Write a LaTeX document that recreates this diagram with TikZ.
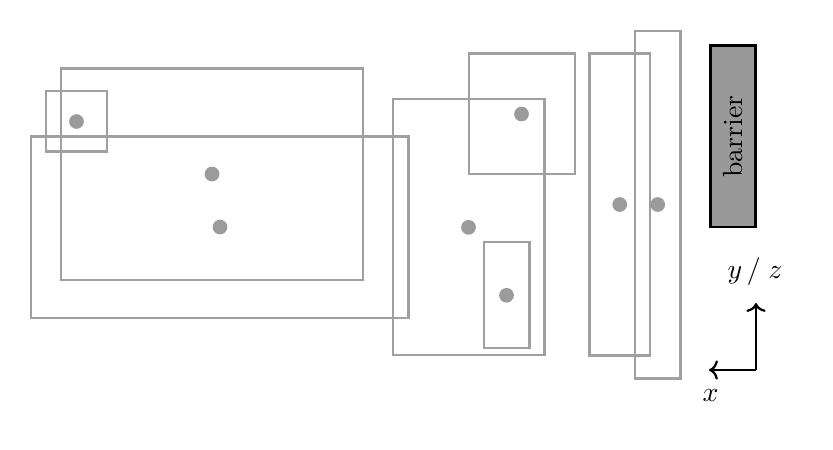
\documentclass[tikz,border=0pt]{standalone}
\usetikzlibrary{arrows.meta}
\definecolor{boxgray}{RGB}{160,160,160}
\definecolor{dotgray}{RGB}{155,155,155}
\definecolor{barfill}{RGB}{153,153,153}
\tikzset{
  cellbox/.style={draw=boxgray, line width=0.8pt},
  pdot/.style={circle, fill=dotgray, inner sep=0pt, minimum size=5.3pt},
  axisline/.style={draw=black, line width=0.8pt, -{To[length=3.2pt,width=7pt]}},
}
\begin{document}
\begin{tikzpicture}[x=0.3602pt, y=-0.3602pt]
\useasboundingbox (0,0) rectangle (833,449);
% boxes
\draw[cellbox] (61,68.5) rectangle (363,280);
\draw[cellbox] (46,91) rectangle (107,151.5);
\draw[cellbox] (31,136.5) rectangle (408.5,318);
\draw[cellbox] (393,99) rectangle (544.5,355);
\draw[cellbox] (469,53.5) rectangle (575,174);
\draw[cellbox] (484,242) rectangle (529.5,348);
\draw[cellbox] (589.5,53.5) rectangle (650,355.5);
\draw[cellbox] (635,31) rectangle (680.5,378.5);
% dots
\node[pdot] (d1) at (76.5,121.5) {};
\node[pdot] (d2) at (212,174) {};
\node[pdot] (d3) at (220,227) {};
\node[pdot] (d4) at (521.5,114) {};
\node[pdot] (d5) at (468.5,227.3) {};
\node[pdot] (d6) at (506.5,295.3) {};
\node[pdot] (d7) at (619.7,204.5) {};
\node[pdot] (d8) at (657.7,204.5) {};
% barrier
\draw[fill=barfill, draw=black, line width=0.8pt] (710.5,45.5) rectangle (755.5,227);
\node[rotate=90, inner sep=0pt] (barrier) at (733,136.5) {barrier};
% axes
\coordinate (o) at (756,370);
\coordinate (ytip) at (756,303);
\coordinate (xtip) at (709,370);
\draw[axisline] (o) -- (ytip);
\draw[axisline] (o) -- (xtip);
\node (ylab) at (755,272) {$y\,/\;z$};
\node (xlab) at (710.5,395) {$x$};
\end{tikzpicture}
\end{document}
